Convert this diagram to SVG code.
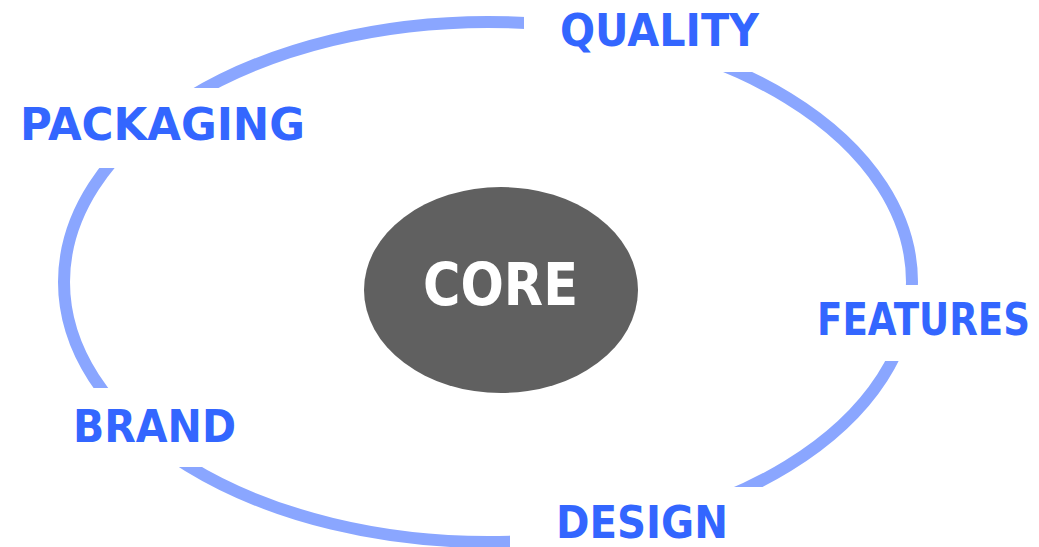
<svg xmlns="http://www.w3.org/2000/svg" width="1039" height="547" viewBox="0 0 1039 547">
<style>
.lbl{font-family:"DejaVu Sans","Liberation Sans",sans-serif;font-weight:bold;font-size:44px;fill:#3366ff}
.core{font-family:"DejaVu Sans","Liberation Sans",sans-serif;font-weight:bold;font-size:59px;fill:#ffffff}
</style>
<defs>
<mask id="gaps">
<rect x="0" y="0" width="1039" height="547" fill="#fff"/>
<rect x="0" y="88" width="330" height="80" fill="#000"/>
<rect x="524" y="0" width="515" height="72" fill="#000"/>
<rect x="800" y="285" width="239" height="76" fill="#000"/>
<rect x="510" y="487" width="529" height="60" fill="#000"/>
<rect x="0" y="388" width="300" height="79" fill="#000"/>
</mask>
</defs>
<rect width="1039" height="547" fill="#ffffff"/>
<g id="connectors">
<ellipse cx="488" cy="282" rx="424" ry="260" fill="none" stroke="#8aa6ff" stroke-width="12" mask="url(#gaps)"/>
</g>
<g id="core">
<ellipse cx="501" cy="290" rx="137" ry="103" fill="#606060"/>
<text class="core" x="423" y="305" textLength="155" lengthAdjust="spacingAndGlyphs">CORE</text>
</g>
<g id="packaging">
<text class="lbl" x="20" y="140" textLength="285" lengthAdjust="spacingAndGlyphs">PACKAGING</text>
</g>
<g id="quality">
<text class="lbl" x="560" y="46" textLength="199" lengthAdjust="spacingAndGlyphs">QUALITY</text>
</g>
<g id="features" transform="translate(817,335) scale(0.845,1)">
<text class="lbl" x="0" y="0">FEATURES</text>
</g>
<g id="design">
<text class="lbl" x="556" y="538" textLength="172" lengthAdjust="spacingAndGlyphs">DESIGN</text>
</g>
<g id="brand">
<text class="lbl" x="73" y="442" textLength="163" lengthAdjust="spacingAndGlyphs">BRAND</text>
</g>
</svg>
